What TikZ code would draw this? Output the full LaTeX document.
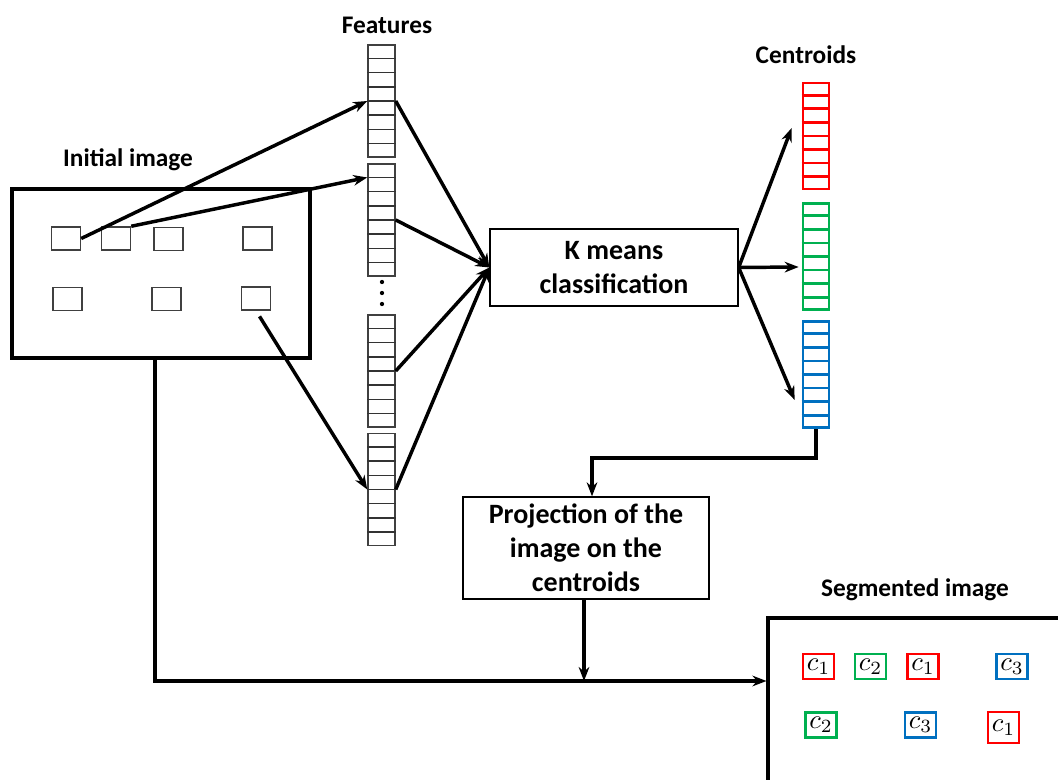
\documentclass[tikz,border=0pt]{standalone}
\usepackage{graphicx}
\usepackage{fontspec}
\setmainfont{Carlito}
\usetikzlibrary{arrows.meta,calc}
\definecolor{cred}{RGB}{255,0,0}
\definecolor{cgreen}{RGB}{0,176,80}
\definecolor{cblue}{RGB}{0,112,192}
\def\unitpx{0.75pt}
\newcommand{\cl}[1]{\scalebox{2.0}{$c_{#1}$}}
\begin{document}
\begin{tikzpicture}[x=0.75pt,y=-0.75pt,
  conn/.style={draw=black,line width=2.6pt},
  arr/.style={conn,-{Stealth[length=10.5pt,width=8pt]}},
  head/.style={font=\fontsize{19}{23}\selectfont\bfseries},
  boxtext/.style={draw,line width=1pt,align=center,inner sep=0pt,font=\fontsize{21}{25.5}\selectfont\bfseries},
  bigbox/.style={draw,line width=2.3pt,inner sep=0pt},
  sbox/.style={draw=black!75,line width=1.1pt,minimum width=29*\unitpx,minimum height=23*\unitpx,inner sep=0pt},
  fblock/.style={draw=black!75,line width=1.1pt,minimum width=27*\unitpx,minimum height=112*\unitpx,inner sep=0pt},
  fcell/.style={draw=black!80,line width=1.1pt},
  cblock/.style={draw=#1,line width=2pt,minimum width=26*\unitpx,minimum height=106*\unitpx,inner sep=0pt},
  ccell/.style={draw=#1,line width=2pt},
  clab/.style={draw=#1,line width=1.9pt,minimum width=31*\unitpx,minimum height=25*\unitpx,inner sep=0pt}
]
\useasboundingbox (0,0) rectangle (1058,780);
\clip (0,0) rectangle (1058,780);

% labels
\node[head] (tinit) at (128,160) {Initial image};
\node[head] (tfeat) at (387,25) {Features};
\node[head] (tcent) at (806,55) {Centroids};
\node[head] (tseg) at (915,590) {Segmented image};

% initial image
\node[bigbox,minimum width=298*\unitpx,minimum height=169*\unitpx] (init) at (161,273.5) {};
\node[sbox] (b1) at (66,238.5) {};
\node[sbox] (b2) at (116,238.5) {};
\node[sbox] (b3) at (168.5,239) {};
\node[sbox] (b4) at (257.5,238.5) {};
\node[sbox] (b5) at (67.5,299) {};
\node[sbox] (b6) at (166.5,299) {};
\node[sbox] (b7) at (256,298.5) {};

% features
\node[fblock] (f1) at (381.5,101) {};
\node[fblock] (f2) at (381.5,220) {};
\node[fblock] (f3) at (381.5,371) {};
\node[fblock] (f4) at (381.5,489.5) {};
\foreach \n in {f1,f2,f3,f4}{
  \foreach \i in {1,...,7}{
    \draw[fcell] ($(\n.north west)!\i/8!(\n.south west)$) -- ($(\n.north east)!\i/8!(\n.south east)$);
  }
}
\fill (382,282) circle (1.6pt);
\fill (382,293) circle (1.6pt);
\fill (382,304) circle (1.6pt);

% K means
\node[boxtext,minimum width=248*\unitpx,minimum height=77*\unitpx] (km) at (614,267.5) {K means\\classification};

% centroids
\node[cblock=cred] (red) at (816,136) {};
\node[cblock=cgreen] (green) at (816,256.5) {};
\node[cblock=cblue] (blue) at (816,374.5) {};
\foreach \n/\c in {red/cred,green/cgreen,blue/cblue}{
  \foreach \i in {1,...,7}{
    \draw[ccell=\c] ($(\n.north west)!\i/8!(\n.south west)$) -- ($(\n.north east)!\i/8!(\n.south east)$);
  }
}

% projection
\node[boxtext,minimum width=246*\unitpx,minimum height=102*\unitpx] (proj) at (586,548) {Projection of the\\image on the\\centroids};

% segmented image
\node[bigbox,minimum width=310*\unitpx,minimum height=190*\unitpx] (seg) at (923,713) {};
\node[clab=cred] (c1a) at (818.5,666.5) {\cl1};
\node[clab=cgreen] (c2a) at (870.5,666.5) {\cl2};
\node[clab=cred] (c1b) at (923,666.5) {\cl1};
\node[clab=cblue] (c3a) at (1012,666.5) {\cl3};
\node[clab=cgreen] (c2b) at (821,725) {\cl2};
\node[clab=cblue] (c3b) at (920.5,725) {\cl3};
\node[clab=cred,minimum height=31*\unitpx] (c1c) at (1003.5,727.5) {\cl1};

% connectors
\coordinate (turn) at (592,458);
\coordinate (j) at (584,681);
\coordinate (down) at ($(init.south)+(-6,0)$);
\draw[arr] (down) |- (j -| seg.west);
\draw[arr] (proj.south -| j) -- (j);
\draw[arr] (blue.south) |- (turn) -- (turn |- proj.north);
\draw[arr] (b1.east) -- (f1.west);
\draw[arr] (b2.north east) -- ($(f2.north west)!1/8!(f2.south west)$);
\draw[arr,shorten <=5pt] (b7.south) -- (f4.west);
\foreach \n in {f1,f2,f3,f4}{
  \draw[arr] (\n.east) -- (km.west);
}
\draw[arr] (km.east) -- ($(red.west)+(-10,-8)$);
\draw[arr] (km.east) -- ($(green.west)+(-3,10.5)$);
\draw[arr] (km.east) -- ($(blue.west)+(-7,25.5)$);
\end{tikzpicture}
\end{document}
